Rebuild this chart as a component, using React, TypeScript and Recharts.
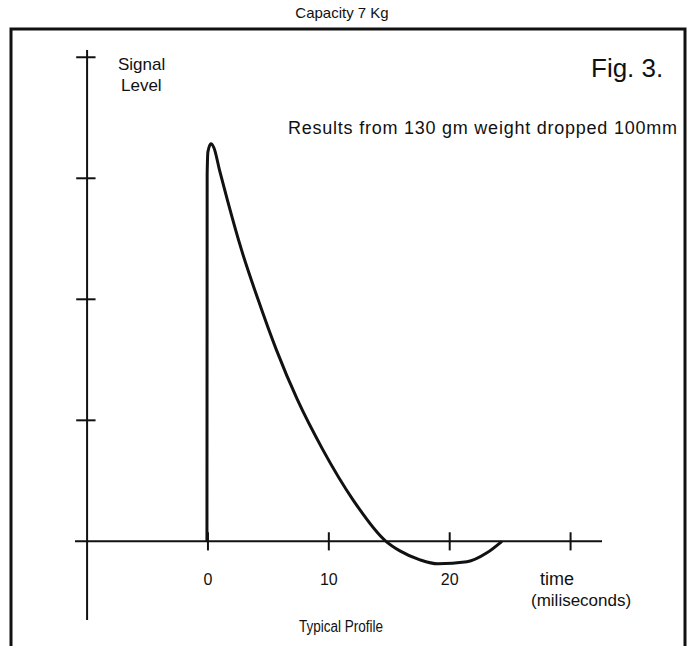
import { LineChart, Line, XAxis, YAxis, ReferenceLine } from "recharts";

// Signal trace (time in ms, signal in tick units)
const TIME_MS = [
  -0.083, -0.066, 0.0, 0.25, 0.5, 0.95, 1.61, 2.77, 4.14, 5.67, 7.4, 9.51,
  12.0, 14.73, 15.88, 17.54, 19.03, 21.43, 23.08, 24.32,
];
const SIGNAL = [
  0, 3.03, 3.22, 3.285, 3.25, 3.07, 2.82, 2.41, 2.0, 1.58, 1.17, 0.756, 0.343,
  0, -0.079, -0.153, -0.186, -0.169, -0.095, 0,
];
const X_TICKS = [0, 10, 20, 30];
const X_TICK_LABELS = ["0", "10", "20", ""];
const Y_TICKS = [1, 2, 3, 4];

const data = TIME_MS.map((t, i) => ({ t, v: SIGNAL[i] }));

const INK = "#111";
const FONT = "'Liberation Sans', Arial, sans-serif";

export default function App() {
  return (
    <div
      style={{
        position: "absolute",
        left: 0,
        top: 0,
        width: 690,
        height: 646,
        background: "#fff",
        fontFamily: FONT,
      }}
    >
      <LineChart
        width={690}
        height={646}
        data={data}
        margin={{ top: 50, right: 88, bottom: 26, left: 75 }}
      >
        <XAxis
          type="number"
          dataKey="t"
          domain={[-11, 32.6]}
          allowDataOverflow
          hide
        />
        <YAxis type="number" domain={[-0.65, 4.06]} allowDataOverflow hide />

        {/* time axis and vertical signal axis */}
        <ReferenceLine y={0} stroke={INK} strokeWidth={2} />
        <ReferenceLine
          segment={[
            { x: -10, y: -0.65 },
            { x: -10, y: 4.06 },
          ]}
          stroke={INK}
          strokeWidth={2}
        />

        {Y_TICKS.map((v) => (
          <ReferenceLine
            key={`y${v}`}
            segment={[
              { x: -10.9, y: v },
              { x: -9.3, y: v },
            ]}
            stroke={INK}
            strokeWidth={2}
          />
        ))}

        {X_TICKS.map((v, i) => (
          <ReferenceLine
            key={`x${v}`}
            segment={[
              { x: v, y: -0.075 },
              { x: v, y: 0.075 },
            ]}
            stroke={INK}
            strokeWidth={2}
            label={{
              value: X_TICK_LABELS[i],
              position: "bottom",
              offset: 23,
              fill: INK,
              fontSize: 16,
              fontFamily: FONT,
            }}
          />
        ))}

        <Line
          type="monotone"
          dataKey="v"
          stroke={INK}
          strokeWidth={3}
          dot={false}
          isAnimationActive={false}
        />
      </LineChart>

      <svg
        width={690}
        height={646}
        style={{ position: "absolute", left: 0, top: 0, pointerEvents: "none" }}
        fontFamily={FONT}
        fill={INK}
      >
        <path d="M11 646 V29 H685 V646" fill="none" stroke={INK} strokeWidth={3} />
        <text x={342} y={18} fontSize={15} textAnchor="middle">
          Capacity 7 Kg
        </text>
        <text x={118} y={70} fontSize={17}>
          Signal
        </text>
        <text x={121} y={91} fontSize={17}>
          Level
        </text>
        <text x={591} y={77} fontSize={26}>
          Fig. 3.
        </text>
        <text
          x={288}
          y={134}
          fontSize={18}
          textLength={389}
          lengthAdjust="spacing"
        >
          Results from 130 gm weight dropped 100mm
        </text>
        <text x={540} y={585} fontSize={18}>
          time
        </text>
        <text x={531} y={606} fontSize={17}>
          (miliseconds)
        </text>
        <text
          x={299}
          y={632}
          fontSize={16}
          textLength={84}
          lengthAdjust="spacingAndGlyphs"
        >
          Typical Profile
        </text>
      </svg>
    </div>
  );
}
